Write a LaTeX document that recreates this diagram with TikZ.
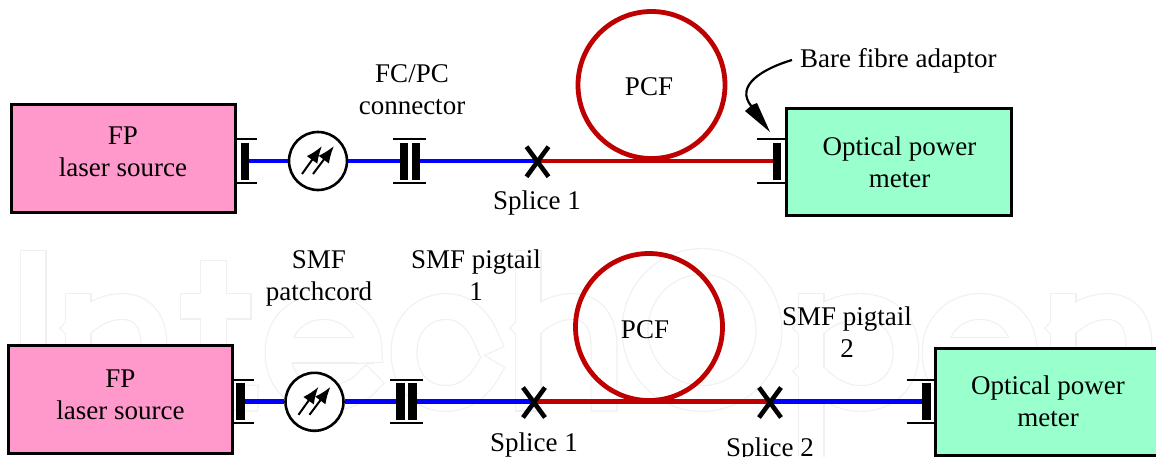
\documentclass[tikz,border=0pt]{standalone}
\usepackage{fontspec}
\setmainfont{Liberation Serif}
\usetikzlibrary{arrows.meta}
\definecolor{pinkbox}{HTML}{FF99CC}
\definecolor{greenbox}{HTML}{99FFCC}
\definecolor{fibreblue}{HTML}{0000FF}
\definecolor{fibrered}{HTML}{BE0000}
\definecolor{wmgray}{HTML}{F0F0F0}
\tikzset{
 x=1pt,y=-1pt,
 box/.style={draw=black,line width=3pt,inner sep=0pt,minimum width=225pt,minimum height=107pt,anchor=north west},
 pinkb/.style={box,fill=pinkbox,minimum width=224pt,minimum height=108pt},
 greenb/.style={box,fill=greenbox},
 lbl/.style={inner sep=0pt,align=center,font=\fontsize{27}{32}\selectfont},
 blue fibre/.style={draw=fibreblue,line width=4.8pt},
 red fibre/.style={draw=fibrered,line width=4.8pt},
 plate/.style={fill=black,draw=none,minimum width=8.5pt,minimum height=37pt,inner sep=0pt},
 rail/.style={draw=black,line width=2pt},
 iso/.style={circle,draw=black,line width=2.6pt,fill=white,minimum size=58pt,inner sep=0pt},
 spl/.style={draw=black,line width=4.6pt},
 tinyarrow/.style={draw=black,line width=2pt,-{Latex[length=17pt,width=13pt]}},
 wmouter/.style={draw=wmgray,line width=27pt,line cap=rect,line join=round},
 wminner/.style={draw=white,line width=24.6pt,line cap=rect,line join=round},
}
\newcommand{\isoarrows}[1]{%
 \draw[tinyarrow] ([shift={(-16,13)}]#1.center) -- ([shift={(4,-15)}]#1.center);
 \draw[tinyarrow] ([shift={(-5,13)}]#1.center) -- ([shift={(16,-15)}]#1.center);}
\newcommand{\crossat}[1]{%
 \draw[spl] ([shift={(-11,-14.3)}]#1) -- ([shift={(11,15.7)}]#1);
 \draw[spl] ([shift={(11,-14.3)}]#1) -- ([shift={(-11,15.7)}]#1);}
\newcommand{\wmletters}[1]{%
 % I
 \draw[#1] (33,263.5) -- (33,398);
 % n
 \draw[#1] (78,306.5) -- (78,398);
 \draw[#1] (78,328) .. controls (92,313) and (108,306.5) .. (122,306.5) .. controls (143,306.5) and (154,322) .. (154,345) -- (154,398);
 % t
 \draw[#1] (213.5,273.5) -- (213.5,372) .. controls (213.5,390) and (225,398) .. (245,398);
 \draw[#1] (193,306) -- (238,306);
 % e
 \draw[#1] (369,350) .. controls (369,325) and (349,306.5) .. (323.5,306.5) .. controls (298,306.5) and (278,325) .. (278,352) .. controls (278,382) and (298,398.5) .. (323.5,398.5) .. controls (343,398.5) and (358,392) .. (366,383);
 \draw[#1] (290,350) -- (360,350);
 % c
 \draw[#1] (487,340) .. controls (478,318) and (463,306.5) .. (447,306.5) .. controls (422,306.5) and (404,325) .. (404,352) .. controls (404,382) and (422,398.5) .. (447,398.5) .. controls (463,398.5) and (478,388) .. (487,372);
 % h
 \draw[#1] (528,263.5) -- (528,398);
 \draw[#1] (528,328) .. controls (542,313) and (558,306.5) .. (572,306.5) .. controls (593,306.5) and (604,322) .. (604,345) -- (604,398);
 % O
 \draw[#1] (702,330) ellipse[x radius=67,y radius=68.5];
 % p
 \draw[#1] (811,306.5) -- (811,470);
 \draw[#1] (811,328) .. controls (825,313) and (842,306.5) .. (860,306.5) .. controls (888,306.5) and (906,325) .. (906,352) .. controls (906,380) and (888,398.5) .. (860,398.5) .. controls (842,398.5) and (825,388) .. (811,372);
 % e
 \draw[#1] (1024,350) .. controls (1024,325) and (1005,306.5) .. (980,306.5) .. controls (955,306.5) and (935,325) .. (935,352) .. controls (935,382) and (955,398.5) .. (980,398.5) .. controls (1000,398.5) and (1014,392) .. (1021,383);
 \draw[#1] (947,350) -- (1015,350);
 % n
 \draw[#1] (1063,306.5) -- (1063,398);
 \draw[#1] (1063,328) .. controls (1077,313) and (1093,306.5) .. (1107,306.5) .. controls (1128,306.5) and (1139,322) .. (1139,345) -- (1139,398);
}
\begin{document}
\begin{tikzpicture}
\useasboundingbox (0,0) rectangle (1156,456);
\begin{scope}
\clip (0,0) rectangle (1156,456);
\wmletters{wmouter}
\wmletters{wminner}
\end{scope}
% ---- top
\node[pinkb] (src1) at (9.5,102.7) {};
\node[greenb] (pm1) at (785,106.7) {};
\node[plate] (pl1) at (245,161) {};
\node[iso] (iso1) at (318,161) {};
\node[plate] (c1a) at (404,161) {};
\node[plate] (c1b) at (416,161) {};
\coordinate (sp1) at (537.5,161);
\node[plate] (pl1r) at (777,161) {};
\draw[blue fibre] (pl1.east) -- (iso1.west);
\draw[blue fibre] (iso1.east) -- (c1a.west);
\draw[blue fibre] (c1b.east) -- (sp1);
\draw[red fibre] (sp1) -- (pl1r.west);
\draw[red fibre] (651.5,85) circle[radius=73.5];
\draw[rail] (237,139.3) -- (257,139.3) (237,182.7) -- (257,182.7);
\draw[rail] (393,139.3) -- (426,139.3) (393,182.7) -- (426,182.7);
\draw[rail] (757,139.3) -- (786,139.3) (757,183.3) -- (786,183.3);
\isoarrows{iso1}
\crossat{sp1}
\node[lbl] (t0) at (123,152) {FP\\laser source};
\node[lbl] (t5) at (899.5,162.5) {Optical power\\meter};
\node[lbl] (t1) at (649,87) {PCF};
\node[lbl] (t2) at (412,89.5) {FC/PC\\connector};
\node[lbl] (t3) at (537,202.5) {Splice 1};
\node[lbl,anchor=west] (t4) at (800,60.5) {Bare fibre adaptor};
\coordinate (cs) at (792,60);
\coordinate (ce) at (752,107);
\coordinate (tip) at (770,132);
\draw[line width=2.2pt] (cs) .. controls (765,68) and (733,85) .. (ce);
\fill (tip) -- (745,111) -- (752,105) -- (757,103) -- cycle;
% ---- bottom
\node[pinkb] (src2) at (7,344) {};
\node[greenb] (pm2) at (933.5,346.7) {};
\node[plate] (pl2) at (240.5,401.8) {};
\node[iso] (iso2) at (314.5,401.8) {};
\node[plate] (c2a) at (400.5,401.8) {};
\node[plate] (c2b) at (412.5,401.8) {};
\coordinate (sp2) at (534,401.8);
\coordinate (sp3) at (770,401.8);
\node[plate] (pl2r) at (926.5,401.8) {};
\draw[blue fibre] (pl2.east) -- (iso2.west);
\draw[blue fibre] (iso2.east) -- (c2a.west);
\draw[blue fibre] (c2b.east) -- (sp2);
\draw[red fibre] (sp2) -- (sp3);
\draw[blue fibre] (sp3) -- (pl2r.west);
\draw[red fibre] (649,327) circle[radius=73.5];
\draw[rail] (234,380.3) -- (254,380.3) (234,423.3) -- (254,423.3);
\draw[rail] (390,380.3) -- (423,380.3) (390,423.3) -- (423,423.3);
\draw[rail] (906.5,380.3) -- (934,380.3) (906.5,423.3) -- (934,423.3);
\isoarrows{iso2}
\crossat{sp2}
\crossat{sp3}
\node[lbl] (b0) at (120.5,394.5) {FP\\laser source};
\node[lbl] (b7) at (1048,401.5) {Optical power\\meter};
\node[lbl] (b1) at (645,330) {PCF};
\node[lbl] (b2) at (319,278.5) {SMF\\patchcord};
\node[lbl] (b3) at (476,275.5) {SMF pigtail\\1};
\node[lbl] (b4) at (847,332) {SMF pigtail\\2};
\node[lbl] (b5) at (534,445) {Splice 1};
\node[lbl] (b6) at (770,449.5) {Splice 2};
\end{tikzpicture}
\end{document}
